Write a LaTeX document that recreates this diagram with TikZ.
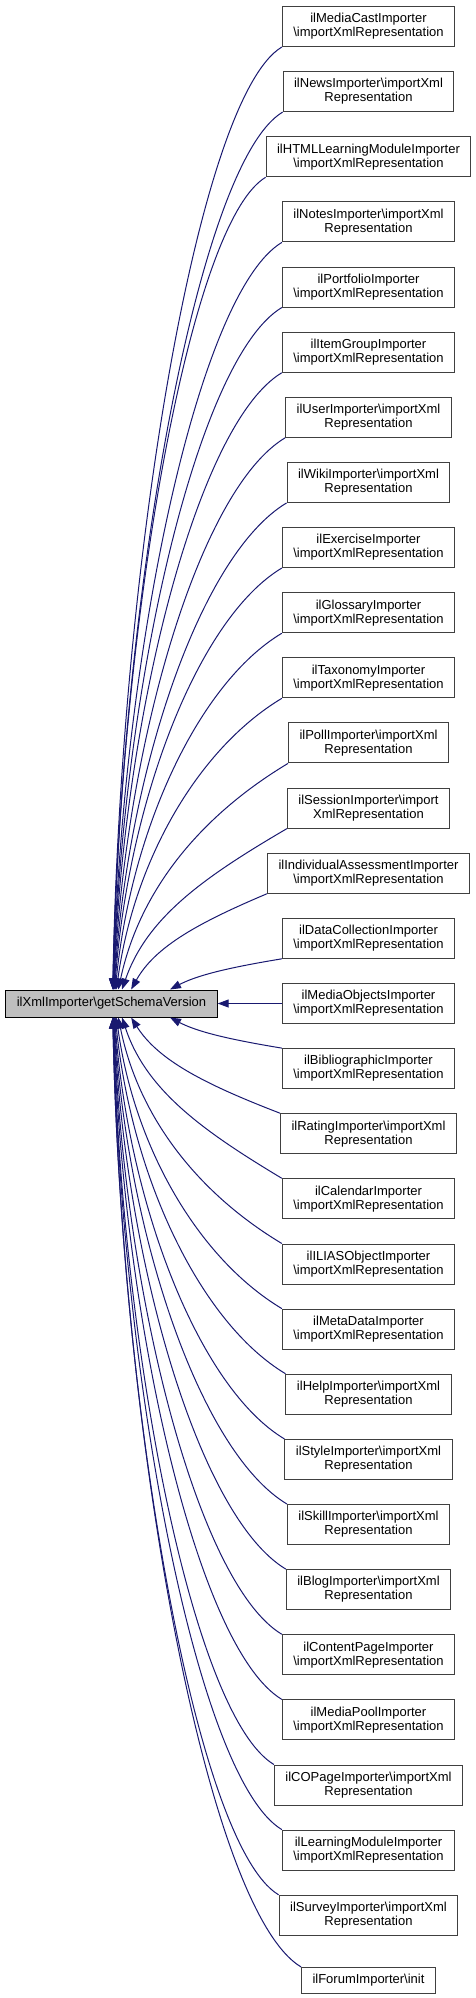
\documentclass[tikz,border=0pt]{standalone}
\usepackage{fontspec}
\setmainfont{Liberation Sans}
\usepackage{tikz}
\usetikzlibrary{arrows.meta, calc}
\definecolor{edgeblue}{HTML}{191970}
\newcommand{\bs}{\textbackslash}
\tikzset{
    fn/.style={
        draw=black!75,
        line width=1pt,
        align=center,
        inner xsep=11pt,
        inner ysep=0pt,
        minimum height=40pt,
        font=\fontsize{13}{14}\selectfont
    },
    fnone/.style={
        fn,
        minimum height=26pt
    },
    mainfn/.style={
        fn,
        fill=black!25,
        draw=black,
        minimum height=27pt
    },
    edge/.style={
        draw=edgeblue,
        line width=1pt,
        -{Triangle[length=11pt,width=8pt]}
    }
}

\begin{document}
\begin{tikzpicture}[x=1pt,y=1pt]

\useasboundingbox (0,0) rectangle (476,-1998);

%---------------- called node ----------------

\node[mainfn] (main) at (111.5,-1003.5) {ilXmlImporter\bs{}getSchemaVersion};

%---------------- callers ----------------

\node[fn] (n0) at (368.5,-26.5) {ilMediaCastImporter\\\bs{}importXmlRepresentation};
\node[fn] (n1) at (368.5,-91.6) {ilNewsImporter\bs{}importXml\\Representation};
\node[fn] (n2) at (368.5,-156.8) {ilHTMLLearningModuleImporter\\\bs{}importXmlRepresentation};
\node[fn] (n3) at (368.5,-221.9) {ilNotesImporter\bs{}importXml\\Representation};
\node[fn] (n4) at (368.5,-287.0) {ilPortfolioImporter\\\bs{}importXmlRepresentation};
\node[fn] (n5) at (368.5,-352.2) {ilItemGroupImporter\\\bs{}importXmlRepresentation};
\node[fn] (n6) at (368.5,-417.3) {ilUserImporter\bs{}importXml\\Representation};
\node[fn] (n7) at (368.5,-482.4) {ilWikiImporter\bs{}importXml\\Representation};
\node[fn] (n8) at (368.5,-547.5) {ilExerciseImporter\\\bs{}importXmlRepresentation};
\node[fn] (n9) at (368.5,-612.7) {ilGlossaryImporter\\\bs{}importXmlRepresentation};
\node[fn] (n10) at (368.5,-677.8) {ilTaxonomyImporter\\\bs{}importXmlRepresentation};
\node[fn] (n11) at (368.5,-742.9) {ilPollImporter\bs{}importXml\\Representation};
\node[fn] (n12) at (368.5,-808.1) {ilSessionImporter\bs{}import\\XmlRepresentation};
\node[fn] (n13) at (368.5,-873.2) {ilIndividualAssessmentImporter\\\bs{}importXmlRepresentation};
\node[fn] (n14) at (368.5,-938.3) {ilDataCollectionImporter\\\bs{}importXmlRepresentation};
\node[fn] (n15) at (368.5,-1003.5) {ilMediaObjectsImporter\\\bs{}importXmlRepresentation};
\node[fn] (n16) at (368.5,-1068.6) {ilBibliographicImporter\\\bs{}importXmlRepresentation};
\node[fn] (n17) at (368.5,-1133.7) {ilRatingImporter\bs{}importXml\\Representation};
\node[fn] (n18) at (368.5,-1198.8) {ilCalendarImporter\\\bs{}importXmlRepresentation};
\node[fn] (n19) at (368.5,-1264.0) {ilILIASObjectImporter\\\bs{}importXmlRepresentation};
\node[fn] (n20) at (368.5,-1329.1) {ilMetaDataImporter\\\bs{}importXmlRepresentation};
\node[fn] (n21) at (368.5,-1394.2) {ilHelpImporter\bs{}importXml\\Representation};
\node[fn] (n22) at (368.5,-1459.4) {ilStyleImporter\bs{}importXml\\Representation};
\node[fn] (n23) at (368.5,-1524.5) {ilSkillImporter\bs{}importXml\\Representation};
\node[fn] (n24) at (368.5,-1589.6) {ilBlogImporter\bs{}importXml\\Representation};
\node[fn] (n25) at (368.5,-1654.8) {ilContentPageImporter\\\bs{}importXmlRepresentation};
\node[fn] (n26) at (368.5,-1719.9) {ilMediaPoolImporter\\\bs{}importXmlRepresentation};
\node[fn] (n27) at (368.5,-1785.0) {ilCOPageImporter\bs{}importXml\\Representation};
\node[fn] (n28) at (368.5,-1850.1) {ilLearningModuleImporter\\\bs{}importXmlRepresentation};
\node[fn] (n29) at (368.5,-1915.3) {ilSurveyImporter\bs{}importXml\\Representation};
\node[fnone] (n30) at (368.5,-1980.4) {ilForumImporter\bs{}init};

%---------------- calls ----------------

% upper callers come in on the top side
\foreach \k in {0,...,14}{
    \pgfmathsetmacro{\xe}{112+58/((15-\k)^1.6)}
    \draw[edge] let \p1=(n\k.south west), \p2=(main.north west),
        \n1={\x1-\xe}, \n2={\y1-\y2}, \n3={min(0.3*\n1,0.3*\n2)}, \n4={\n1/(\n1+\n2)} in
        (\p1) .. controls ({\x1-0.5*\n1},{\y1-\n3}) and ({\xe+0.3*\n1*\n4},{\y2+0.45*\n2}) .. (\xe,\y2);
}

% lower callers come in on the bottom side
\foreach \k in {16,...,30}{
    \pgfmathsetmacro{\xe}{112+58/((\k-15)^1.6)}
    \draw[edge] let \p1=(n\k.north west), \p2=(main.south west),
        \n1={\x1-\xe}, \n2={\y2-\y1}, \n3={min(0.3*\n1,0.3*\n2)}, \n4={\n1/(\n1+\n2)} in
        (\p1) .. controls ({\x1-0.5*\n1},{\y1+\n3}) and ({\xe+0.3*\n1*\n4},{\y2-0.45*\n2}) .. (\xe,\y2);
}

\draw[edge] (n15.west) -- (main.east);

\end{tikzpicture}
\end{document}
